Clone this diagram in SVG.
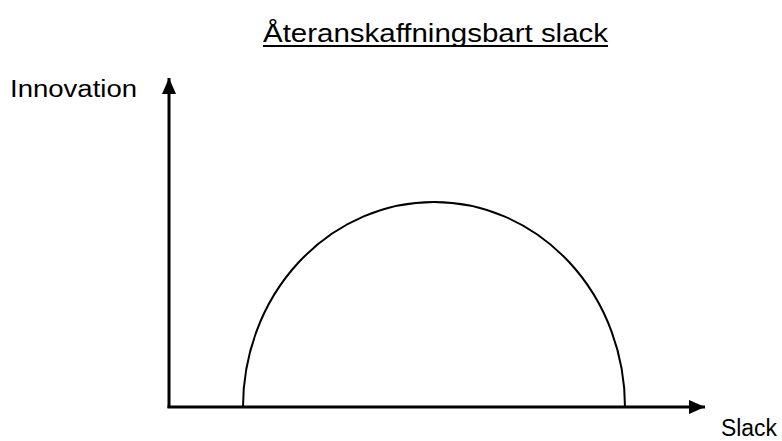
<svg xmlns="http://www.w3.org/2000/svg" width="782" height="441" viewBox="0 0 782 441">
<style>
text{font-family:"Liberation Sans",Arial,sans-serif;fill:#000}
.axis{stroke:#000;stroke-width:3;fill:none}
.curve{stroke:#000;stroke-width:2;fill:none}
</style>
<defs>
<marker id="arr" viewBox="0 0 16 14" refX="16" refY="7" markerWidth="16" markerHeight="14" markerUnits="userSpaceOnUse" orient="auto">
<path d="M0,0 L16,7 L0,14 Z" fill="#000"/>
</marker>
</defs>
<rect width="782" height="441" fill="#fff"/>
<g id="title">
<text x="263" y="42" font-size="25" textLength="345" lengthAdjust="spacingAndGlyphs">Återanskaffningsbart slack</text>
<line x1="263" y1="46" x2="608" y2="46" stroke="#000" stroke-width="2"/>
</g>
<g id="connectors">
<path class="axis" d="M169,408 L169,78" marker-end="url(#arr)"/>
<path class="axis" d="M167.5,407 L705,407" marker-end="url(#arr)"/>
</g>
<g id="curve">
<path class="curve" d="M243,407 A191,205 0 0 1 625,407"/>
</g>
<g id="label-innovation">
<text x="10" y="97" font-size="23" textLength="127" lengthAdjust="spacingAndGlyphs">Innovation</text>
</g>
<g id="label-slack">
<text x="721" y="436" font-size="23" textLength="56" lengthAdjust="spacingAndGlyphs">Slack</text>
</g>
</svg>
